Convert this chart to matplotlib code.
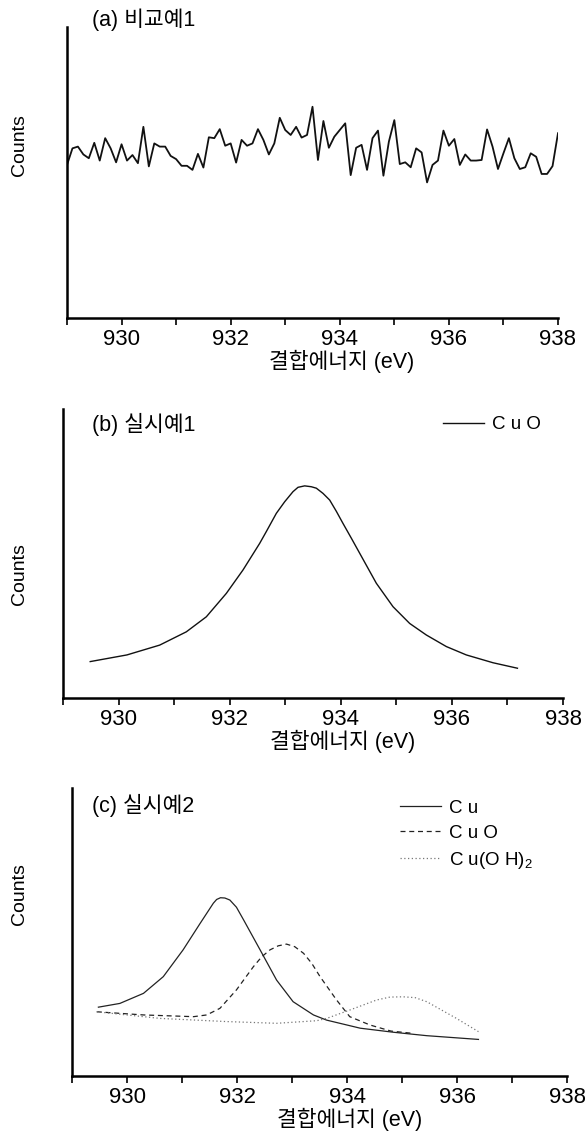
import matplotlib
matplotlib.use("Agg")
import matplotlib.pyplot as plt
import numpy as np

plt.rcParams["font.family"] = ["Liberation Sans", "Noto Sans CJK KR", "DejaVu Sans"]
plt.rcParams["mathtext.fontset"] = "custom"
plt.rcParams["mathtext.rm"] = "Liberation Sans"

# ---- data -------------------------------------------------------------
# (a) comparative example 1: noisy flat spectrum, 0.1 eV steps
energy_a = np.linspace(929.0, 938.0, 91)
counts_a = [
    0.526, 0.583, 0.589, 0.562, 0.549, 0.602, 0.541, 0.618, 0.583, 0.535,
    0.597, 0.541, 0.560, 0.532, 0.657, 0.521, 0.600, 0.589, 0.589, 0.557,
    0.546, 0.523, 0.523, 0.509, 0.564, 0.517, 0.621, 0.618, 0.649, 0.592,
    0.600, 0.534, 0.612, 0.592, 0.600, 0.649, 0.612, 0.562, 0.600, 0.688,
    0.646, 0.629, 0.657, 0.620, 0.629, 0.726, 0.543, 0.677, 0.585, 0.623,
    0.646, 0.669, 0.491, 0.585, 0.595, 0.509, 0.618, 0.644, 0.489, 0.606,
    0.680, 0.529, 0.535, 0.518, 0.583, 0.569, 0.466, 0.526, 0.541, 0.644,
    0.592, 0.615, 0.526, 0.562, 0.541, 0.541, 0.543, 0.648, 0.589, 0.512,
    0.566, 0.618, 0.549, 0.512, 0.518, 0.566, 0.554, 0.495, 0.495, 0.522,
    0.635,
]

# (b) example 1: CuO peak
energy_b = [929.49, 930.15, 930.74, 931.22, 931.58, 931.94, 932.24, 932.54,
            932.66, 932.84, 932.99, 933.14, 933.23, 933.35, 933.47, 933.56,
            933.68, 933.80, 933.92, 934.04, 934.19, 934.34, 934.64, 934.94,
            935.24, 935.54, 935.90, 936.26, 936.74, 937.18]
counts_b = [0.126, 0.149, 0.183, 0.229, 0.281, 0.362, 0.443, 0.535,
            0.576, 0.639, 0.679, 0.714, 0.729, 0.734, 0.731, 0.726,
            0.708, 0.685, 0.646, 0.604, 0.553, 0.501, 0.397, 0.316,
            0.258, 0.218, 0.178, 0.149, 0.122, 0.103]

# (c) example 2: fitted components
energy_cu = [929.48, 929.87, 930.30, 930.66, 931.02, 931.33, 931.45, 931.57,
             931.63, 931.70, 931.78, 931.87, 931.99, 932.12, 932.42, 932.72,
             933.02, 933.39, 933.63, 934.24, 934.84, 935.45, 936.39]
counts_cu = [0.239, 0.252, 0.287, 0.345, 0.438, 0.530, 0.565, 0.600,
             0.613, 0.619, 0.618, 0.611, 0.586, 0.542, 0.438, 0.333,
             0.258, 0.212, 0.194, 0.166, 0.152, 0.140, 0.127]

energy_cuo = [929.45, 930.30, 931.21, 931.45, 931.69, 931.99, 932.30, 932.45,
              932.60, 932.75, 932.90, 933.05, 933.21, 933.36, 933.51, 933.81,
              934.05, 934.42, 934.80, 935.20]
counts_cuo = [0.223, 0.212, 0.206, 0.212, 0.235, 0.299, 0.380, 0.414,
              0.438, 0.452, 0.458, 0.449, 0.426, 0.391, 0.345, 0.264,
              0.206, 0.177, 0.156, 0.148]

energy_oh = [929.45, 930.60, 931.81, 932.72, 933.45, 933.63, 934.05, 934.54,
             934.78, 935.02, 935.24, 935.45, 935.99, 936.39]
counts_oh = [0.223, 0.200, 0.189, 0.183, 0.192, 0.200, 0.229, 0.264,
             0.274, 0.275, 0.272, 0.258, 0.200, 0.154]

xticks_major = [930, 932, 934, 936, 938]
xticks_minor = [929, 931, 933, 935, 937]

TICK_FS = 16
LABEL_FS = 15.5


def style_axis(ax, counts_y):
    ax.set_xlim(929, 938)
    ax.set_ylim(0, 1)
    for side in ("top", "right"):
        ax.spines[side].set_visible(False)
    for side in ("left", "bottom"):
        ax.spines[side].set_linewidth(1.8)
    ax.set_yticks([])
    ax.set_xticks(xticks_major)
    ax.set_xticks(xticks_minor, minor=True)
    ax.tick_params(axis="x", which="both", direction="out", length=5,
                   width=1.2, labelsize=TICK_FS, pad=3)
    ax.set_xlabel("결합에너지 (eV)", fontsize=LABEL_FS, labelpad=0)
    ax.xaxis.set_label_coords(0.56, -0.11)
    ax.set_ylabel("Counts", fontsize=14)
    # ylabel anchor is its right edge (rotated text); put it near x = 28 px
    pos = ax.get_position()
    ax.yaxis.set_label_coords((28 - pos.x0 * 585) / (pos.width * 585),
                              counts_y)


fig = plt.figure(figsize=(5.85, 11.4), dpi=100)
W, H = 585, 1140

ax_a = fig.add_axes([67 / W, 1 - 318 / H, 491 / W, 291 / H])
ax_b = fig.add_axes([63 / W, 1 - 698 / H, 500 / W, 289 / H])
ax_c = fig.add_axes([72 / W, 1 - 1076 / H, 495 / W, 288 / H])

# (a)
ax_a.plot(energy_a, counts_a, color="#111111", lw=1.3)
style_axis(ax_a, 0.594)
ax_a.text(0.051, 1.024, "(a) 비교예1", transform=ax_a.transAxes,
          fontsize=LABEL_FS, ha="left", va="center", clip_on=False)

# (b)
ax_b.plot(energy_b, counts_b, color="#111111", lw=1.0, label="C u O")
style_axis(ax_b, 0.43)
ax_b.text(0.058, 0.945, "(b) 실시예1", transform=ax_b.transAxes,
          fontsize=LABEL_FS, ha="left", va="center")
ax_b.legend(loc="upper left", bbox_to_anchor=(0.76, 0.975), frameon=False,
            fontsize=13.5, handlelength=2.2, handletextpad=0.4,
            borderpad=0, borderaxespad=0)

# (c)
ax_c.plot(energy_cu, counts_cu, color="#222222", lw=0.9, label="C u")
ax_c.plot(energy_cuo, counts_cuo, color="#222222", lw=0.9,
          linestyle=(0, (4, 3)), label="C u O")
ax_c.plot(energy_oh, counts_oh, color="#777777", lw=0.9,
          linestyle=(0, (1, 2)), label="C u(O H)$_2$")
style_axis(ax_c, 0.63)
ax_c.text(0.040, 0.941, "(c) 실시예2", transform=ax_c.transAxes,
          fontsize=LABEL_FS, ha="left", va="center")
ax_c.legend(loc="upper left", bbox_to_anchor=(0.663, 0.96), frameon=False,
            fontsize=13.5, handlelength=2.2, handletextpad=0.4,
            labelspacing=0.42, borderpad=0, borderaxespad=0)

fig.savefig("out.png", dpi=100, facecolor="white")
